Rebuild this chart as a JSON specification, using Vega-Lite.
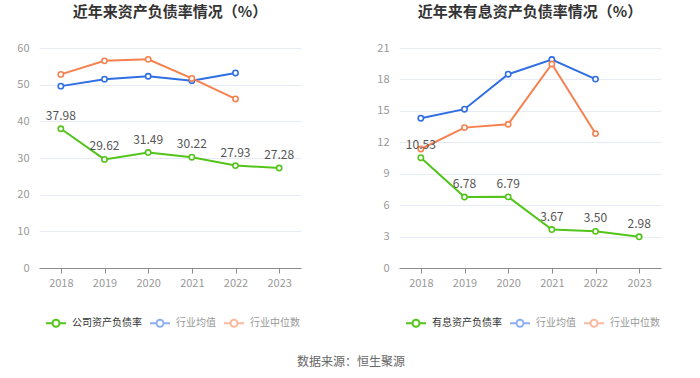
{
  "$schema": "https://vega.github.io/schema/vega-lite/v6.json",
  "padding": {"left": 16, "top": 5, "right": 5, "bottom": 5},
  "config": {
    "view": {"stroke": null},
    "font": "Noto Sans CJK SC",
    "axis": {"labelColor": "#999999", "labelFontSize": 11, "title": null},
    "title": {"fontSize": 15, "fontWeight": "bold", "color": "#333333", "anchor": "middle", "offset": 22}
  },
  "title": {"text": "数据来源：恒生聚源", "orient": "bottom", "anchor": "middle", "fontSize": 12, "fontWeight": "normal", "color": "#666666", "offset": 26, "dx": 12},
  "hconcat": [
    {
      "width": 262,
      "height": 220,
      "title": "近年来资产负债率情况（%）",
      "data": {"values": [
        {"year": "2018", "series": "公司资产负债率", "value": 37.98},
        {"year": "2019", "series": "公司资产负债率", "value": 29.62},
        {"year": "2020", "series": "公司资产负债率", "value": 31.49},
        {"year": "2021", "series": "公司资产负债率", "value": 30.22},
        {"year": "2022", "series": "公司资产负债率", "value": 27.93},
        {"year": "2023", "series": "公司资产负债率", "value": 27.28},
        {"year": "2018", "series": "行业均值", "value": 49.6},
        {"year": "2019", "series": "行业均值", "value": 51.5},
        {"year": "2020", "series": "行业均值", "value": 52.3},
        {"year": "2021", "series": "行业均值", "value": 51.1},
        {"year": "2022", "series": "行业均值", "value": 53.2},
        {"year": "2018", "series": "行业中位数", "value": 52.8},
        {"year": "2019", "series": "行业中位数", "value": 56.5},
        {"year": "2020", "series": "行业中位数", "value": 56.9},
        {"year": "2021", "series": "行业中位数", "value": 51.7},
        {"year": "2022", "series": "行业中位数", "value": 46.1}
      ]},
      "encoding": {
        "x": {"field": "year", "type": "ordinal", "scale": {"type": "point", "padding": 0.5},
              "axis": {"labelAngle": 0, "domainColor": "#8c8c8c", "tickColor": "#8c8c8c", "tickSize": 5, "grid": false, "labelPadding": 4}},
        "y": {"field": "value", "type": "quantitative", "scale": {"domain": [0, 60]},
              "axis": {"values": [0, 10, 20, 30, 40, 50, 60], "domain": false, "ticks": false, "gridColor": "#e6ebf5", "labelPadding": 10}}
      },
      "layer": [
        {"mark": {"type": "line", "strokeWidth": 2},
         "encoding": {"color": {"field": "series", "type": "nominal",
           "scale": {"domain": ["公司资产负债率", "行业均值", "行业中位数"], "range": ["#52c41a", "#2f6ee3", "#f7804f"]},
           "legend": {"orient": "none", "legendX": 6, "legendY": 264, "direction": "horizontal", "title": null,
             "symbolType": "M-1,0L-0.35,0M0.35,0L1,0M0.35,0A0.35,0.35,0,1,1,-0.35,0A0.35,0.35,0,1,1,0.35,0",
             "symbolSize": 400, "symbolStrokeWidth": 2, "symbolFillColor": "white", "labelFontSize": 10, "labelOffset": 5, "columnPadding": 4,
             "encode": {
               "symbols": {"update": {"opacity": {"signal": "datum.value == '公司资产负债率' ? 1 : 0.55"}}},
               "labels": {"update": {"fill": {"signal": "datum.value == '公司资产负债率' ? '#333333' : '#999999'"}}}
             }}}}},
        {"mark": {"type": "point", "filled": false, "fill": "white", "fillOpacity": 1, "opacity": 1, "size": 28, "strokeWidth": 1.6},
         "encoding": {"color": {"field": "series", "type": "nominal", "legend": null}}},
        {"transform": [{"filter": "datum.series == '公司资产负债率'"}],
         "mark": {"type": "text", "dy": -13, "fontSize": 12, "color": "#555555"},
         "encoding": {"text": {"field": "value", "type": "quantitative", "format": ".2f"}}}
      ]
    },
    {
      "width": 262,
      "height": 220,
      "title": "近年来有息资产负债率情况（%）",
      "data": {"values": [
        {"year": "2018", "series": "有息资产负债率", "value": 10.53},
        {"year": "2019", "series": "有息资产负债率", "value": 6.78},
        {"year": "2020", "series": "有息资产负债率", "value": 6.79},
        {"year": "2021", "series": "有息资产负债率", "value": 3.67},
        {"year": "2022", "series": "有息资产负债率", "value": 3.50},
        {"year": "2023", "series": "有息资产负债率", "value": 2.98},
        {"year": "2018", "series": "行业均值", "value": 14.3},
        {"year": "2019", "series": "行业均值", "value": 15.16},
        {"year": "2020", "series": "行业均值", "value": 18.5},
        {"year": "2021", "series": "行业均值", "value": 19.9},
        {"year": "2022", "series": "行业均值", "value": 18.03},
        {"year": "2018", "series": "行业中位数", "value": 11.36},
        {"year": "2019", "series": "行业中位数", "value": 13.4},
        {"year": "2020", "series": "行业中位数", "value": 13.72},
        {"year": "2021", "series": "行业中位数", "value": 19.47},
        {"year": "2022", "series": "行业中位数", "value": 12.83}
      ]},
      "encoding": {
        "x": {"field": "year", "type": "ordinal", "scale": {"type": "point", "padding": 0.5},
              "axis": {"labelAngle": 0, "domainColor": "#8c8c8c", "tickColor": "#8c8c8c", "tickSize": 5, "grid": false, "labelPadding": 4}},
        "y": {"field": "value", "type": "quantitative", "scale": {"domain": [0, 21]},
              "axis": {"values": [0, 3, 6, 9, 12, 15, 18, 21], "domain": false, "ticks": false, "gridColor": "#e6ebf5", "labelPadding": 10}}
      },
      "layer": [
        {"mark": {"type": "line", "strokeWidth": 2},
         "encoding": {"color": {"field": "series", "type": "nominal",
           "scale": {"domain": ["有息资产负债率", "行业均值", "行业中位数"], "range": ["#52c41a", "#2f6ee3", "#f7804f"]},
           "legend": {"orient": "none", "legendX": 6, "legendY": 264, "direction": "horizontal", "title": null,
             "symbolType": "M-1,0L-0.35,0M0.35,0L1,0M0.35,0A0.35,0.35,0,1,1,-0.35,0A0.35,0.35,0,1,1,0.35,0",
             "symbolSize": 400, "symbolStrokeWidth": 2, "symbolFillColor": "white", "labelFontSize": 10, "labelOffset": 5, "columnPadding": 4,
             "encode": {
               "symbols": {"update": {"opacity": {"signal": "datum.value == '有息资产负债率' ? 1 : 0.55"}}},
               "labels": {"update": {"fill": {"signal": "datum.value == '有息资产负债率' ? '#333333' : '#999999'"}}}
             }}}}},
        {"mark": {"type": "point", "filled": false, "fill": "white", "fillOpacity": 1, "opacity": 1, "size": 28, "strokeWidth": 1.6},
         "encoding": {"color": {"field": "series", "type": "nominal", "legend": null}}},
        {"transform": [{"filter": "datum.series == '有息资产负债率'"}],
         "mark": {"type": "text", "dy": -13, "fontSize": 12, "color": "#555555"},
         "encoding": {"text": {"field": "value", "type": "quantitative", "format": ".2f"}}}
      ]
    }
  ],
  "spacing": 75,
  "resolve": {"scale": {"color": "independent", "y": "independent", "x": "independent"}, "legend": {"color": "independent"}}
}
